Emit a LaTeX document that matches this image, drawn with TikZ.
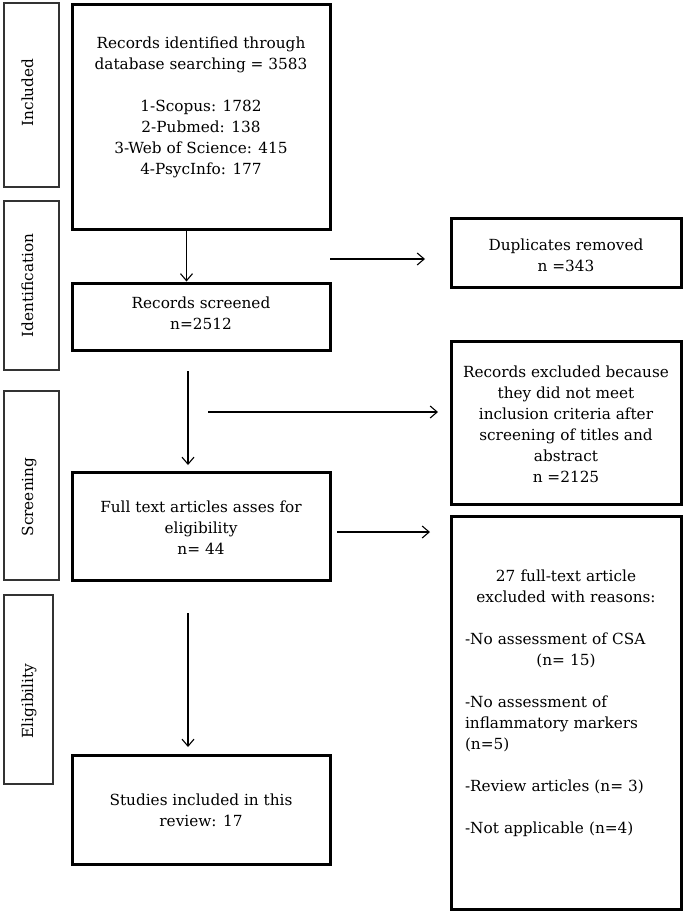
\documentclass[tikz,border=0pt]{standalone}
\usepackage{fontspec}
\setmainfont{DejaVu Serif}
\usetikzlibrary{arrows.meta,calc}
\begin{document}
\begin{tikzpicture}[x=1pt,y=-1pt,
  mainbox/.style={draw, line width=3pt, rectangle, inner sep=0pt},
  sidebox/.style={draw=black!80, line width=1.3pt, rectangle, inner sep=0pt},
  txt/.style={align=center, font=\fontsize{15.3}{21}\selectfont, inner sep=0pt},
  sidelabel/.style={rotate=90, anchor=base, font=\fontsize{15.3}{18}\selectfont, inner sep=0pt},
  flow/.style={line width=1.1pt, -{Straight Barb[length=7pt,width=12pt,line width=1.1pt]}}]
\useasboundingbox (0,0) rectangle (686,913);

% side boxes
\node[sidebox, minimum width=55pt, minimum height=184pt] (s1) at (31.5,95) {};
\node[sidebox, minimum width=55pt, minimum height=169pt] (s2) at (31.5,285.5) {};
\node[sidebox, minimum width=55pt, minimum height=189pt] (s3) at (31.5,485.5) {};
\node[sidebox, minimum width=49pt, minimum height=189pt] (s4) at (28.5,689.5) {};
\node[sidelabel] (l1) at (33,92.5) {Included};
\node[sidelabel] (l2) at (33,285.5) {Identification};
\node[sidelabel] (l3) at (33,497) {Screening};
\node[sidelabel] (l4) at (33,701) {Eligibility};

% main boxes
\node[mainbox, minimum width=258pt, minimum height=225pt] (b1) at (201,116.5) {};
\node[mainbox, minimum width=258pt, minimum height=67pt] (b2) at (201,316.5) {};
\node[mainbox, minimum width=258pt, minimum height=108pt] (b3) at (201,526) {};
\node[mainbox, minimum width=258pt, minimum height=109pt] (b4) at (201,809.5) {};

\node[txt] (t1) at (201,107.5) {Records identified through\\database searching = 3583\\[21pt]1-Scopus: 1782\\2-Pubmed: 138\\3-Web of Science: 415\\4-PsycInfo: 177};
\node[txt] (t2) at (201,313) {Records screened\\n=2512};
\node[txt] (t3) at (201,528) {Full text articles asses for\\eligibility\\n= 44};
\node[txt] (t4) at (201,810) {Studies included in this\\review: 17};

% right boxes
\node[mainbox, minimum width=230pt, minimum height=69pt] (r1) at (566,252.5) {};
\node[mainbox, minimum width=230pt, minimum height=163pt] (r2) at (566,422.5) {};
\node[mainbox, minimum width=230pt, minimum height=393pt] (r3) at (566,712.5) {};

\node[txt] (u1) at (566,255) {Duplicates removed\\n =343};
\node[txt] (u2) at (566,424) {Records excluded because\\they did not meet\\inclusion criteria after\\screening of titles and\\abstract\\n =2125};
\node[txt, align=left, text width=202pt] (u3) at (566,703.5) {\makebox[\hsize]{27 full-text article}\\
\makebox[\hsize]{excluded with reasons:}\\[21pt]
-No assessment of CSA\\
\makebox[\hsize]{(n= 15)}\\[21pt]
-No assessment of\\
inflammatory markers\\
(n=5)\\[21pt]
-Review articles (n= 3)\\[21pt]
-Not applicable (n=4)};

% connectors
\coordinate (v2s) at (188,371);
\coordinate (v2e) at (188,465);
\coordinate (v3s) at (188,613);
\coordinate (v3e) at (188,747);
\coordinate (h1s) at (330,259);
\coordinate (h1e) at (425,259);
\coordinate (h2s) at (208,412);
\coordinate (h2e) at (438,412);
\coordinate (h3s) at (337,532);
\coordinate (h3e) at (430,532);

\draw[flow] ([xshift=116pt]b1.south west) -- ([xshift=116pt]b2.north west);
\draw[flow] (v2s) -- (v2e);
\draw[flow] (v3s) -- (v3e);
\draw[flow] (h1s) -- (h1e);
\draw[flow] (h2s) -- (h2e);
\draw[flow] (h3s) -- (h3e);
\end{tikzpicture}
\end{document}
